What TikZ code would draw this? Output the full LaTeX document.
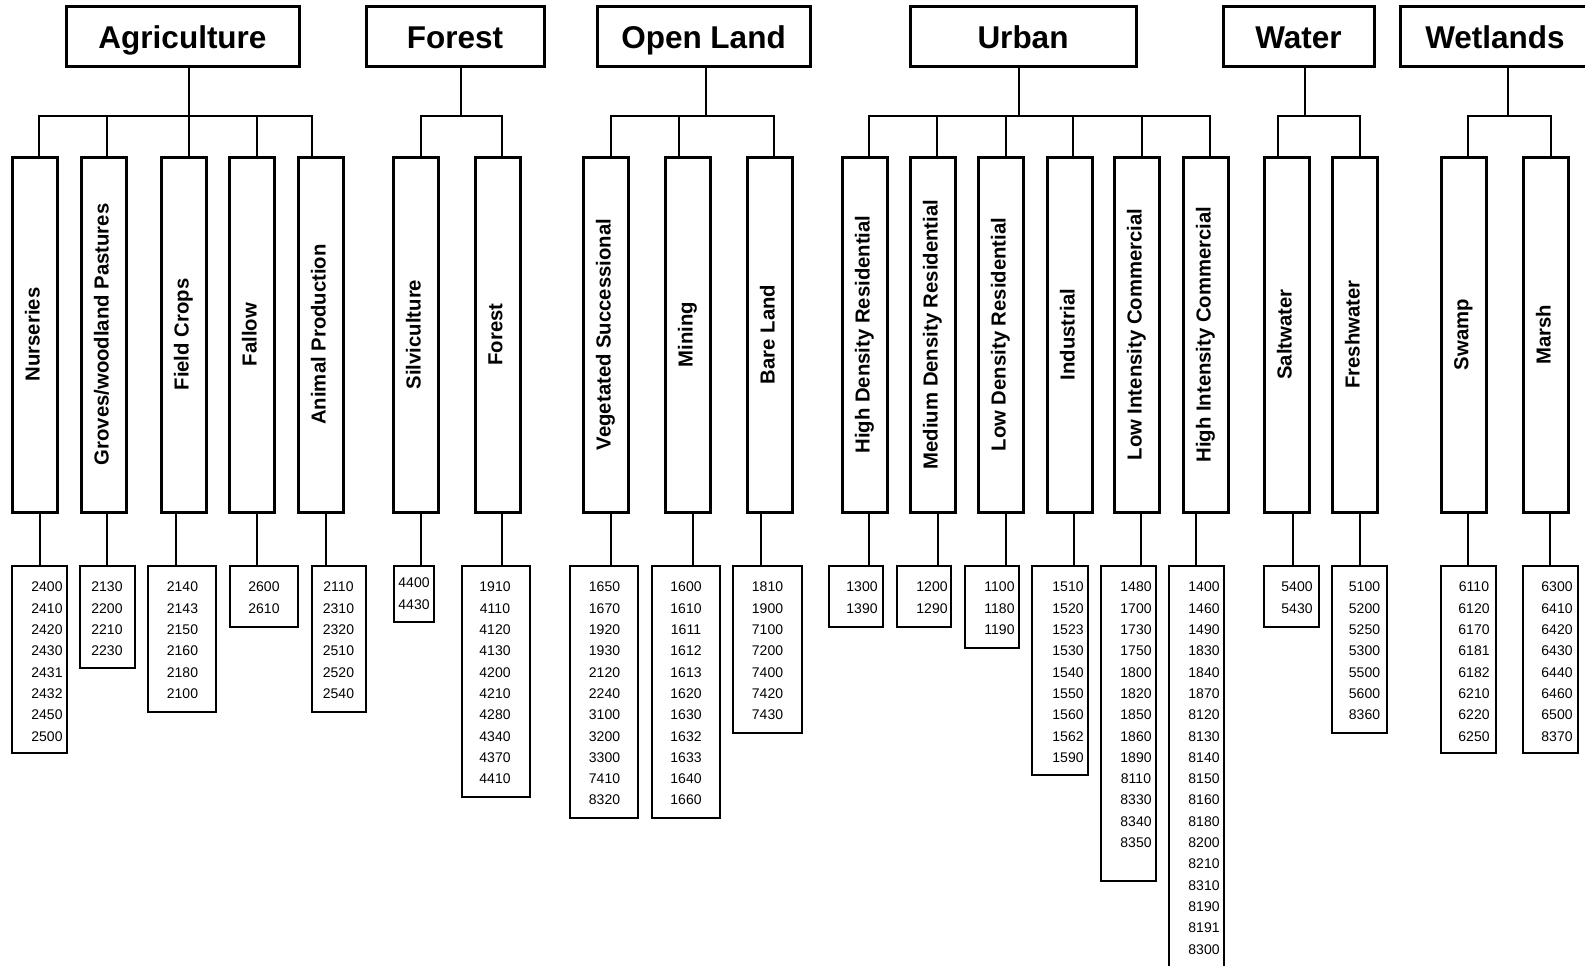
\documentclass[tikz,border=0pt]{standalone}
\usepackage{fontspec}
\setmainfont{Liberation Sans}
\usepackage{graphicx}
\tikzset{
  topbox/.style={draw, line width=3pt, minimum height=60pt, inner sep=0pt, outer sep=0pt,
    text height=22.6pt, text depth=0pt,
    font=\fontsize{31.5}{36}\selectfont\bfseries},
  subbox/.style={draw, line width=3pt, minimum width=45pt, minimum height=355pt, inner sep=0pt, outer sep=0pt,
    font=\fontsize{20.3}{24}\selectfont\bfseries},
  codebox/.style={draw, line width=1.6pt, inner sep=0pt, outer sep=0pt},
  codes/.style={inner sep=0pt, align=center, font=\fontsize{14}{21.3}\selectfont},
  upconn/.style={line width=2.6pt},
  lowconn/.style={line width=1.6pt}
}
% name, left, right, label, junction x
\newcommand\TopBox[5]{%
  \node[topbox, minimum width={(#3-#2)*1pt}] (#1) at ({(#2+#3)/2},37) {#4};
  \coordinate (#1J) at (#5,116);
  \draw[upconn] (#1.south -| #1J) -- (#1J);
}
% name, parent, left, top stub x, label
\newcommand\SubBox[5]{%
  \node[subbox] (#1) at ({#3+22.5},334.5) {\rotatebox{90}{\vphantom{Ag}#5}};
  \coordinate (#1A) at (#4,157);
  \draw[upconn] (#2J) -| (#1.north -| #1A);
}
% name, sub, left, right, bottom, stub x, text x, text top, rows
\newcommand\CodeBox[9]{%
  \node[codebox, minimum width={(#4-#3)*1pt}, minimum height={(#5-566)*1pt}, anchor=north west] (#1) at (#3,566) {};
  \coordinate (#1S) at (#6,566);
  \draw[lowconn] (#2.south -| #1S) -- (#1.north -| #1S);
  \node[codes, anchor=north] (#1T) at (#7,#8) {#9};
}
\begin{document}
\begin{tikzpicture}[x=1pt, y=-1pt]
\useasboundingbox (0,0) rectangle (1585,966);

\TopBox{tagri}{66}{299}{Agriculture}{189}
\TopBox{tfor}{366}{544}{Forest}{461}
\TopBox{topen}{597}{810}{Open Land}{706}
\TopBox{turb}{910}{1136}{Urban}{1019}
\TopBox{twat}{1223}{1374}{Water}{1305}
\TopBox{twet}{1400}{1590}{Wetlands}{1508}

\SubBox{nurs}{tagri}{12}{39}{Nurseries}
\SubBox{grov}{tagri}{81}{107}{Groves/woodland Pastures}
\SubBox{fiel}{tagri}{161}{189}{Field Crops}
\SubBox{fall}{tagri}{229}{257}{Fallow}
\SubBox{anim}{tagri}{298}{312}{Animal Production}
\SubBox{silv}{tfor}{393}{421}{Silviculture}
\SubBox{fore}{tfor}{475}{502}{Forest}
\SubBox{vege}{topen}{583}{611}{Vegetated Successional}
\SubBox{mini}{topen}{665}{679}{Mining}
\SubBox{bare}{topen}{747}{774}{Bare Land}
\SubBox{hdr}{turb}{842}{869}{High Density Residential}
\SubBox{mdr}{turb}{910}{937}{Medium Density Residential}
\SubBox{ldr}{turb}{978}{1006}{Low Density Residential}
\SubBox{indu}{turb}{1047}{1073}{Industrial}
\SubBox{lic}{turb}{1114}{1142}{Low Intensity Commercial}
\SubBox{hic}{turb}{1183}{1210}{High Intensity Commercial}
\SubBox{salt}{twat}{1264}{1278}{Saltwater}
\SubBox{fres}{twat}{1332}{1360}{Freshwater}
\SubBox{swam}{twet}{1441}{1468}{Swamp}
\SubBox{mars}{twet}{1523}{1551}{Marsh}

\CodeBox{cnurs}{nurs}{12}{67}{753}{40}{47}{582}{2400\\2410\\2420\\2430\\2431\\2432\\2450\\2500}
\CodeBox{cgrov}{grov}{80}{135}{668}{107}{107}{582}{2130\\2200\\2210\\2230}
\CodeBox{cfiel}{fiel}{148}{216}{712}{176}{182.5}{582}{2140\\2143\\2150\\2160\\2180\\2100}
\CodeBox{cfall}{fall}{230}{298}{627}{257}{264}{582}{2600\\2610}
\CodeBox{canim}{anim}{312}{366}{712}{326}{338.5}{582}{2110\\2310\\2320\\2510\\2520\\2540}
\CodeBox{csilv}{silv}{394}{434}{622}{421}{414}{578}{4400\\4430}
\CodeBox{cfore}{fore}{462}{530}{797}{502}{495}{582}{1910\\4110\\4120\\4130\\4200\\4210\\4280\\4340\\4370\\4410}
\CodeBox{cvege}{vege}{570}{638}{818}{611}{604.5}{582}{1650\\1670\\1920\\1930\\2120\\2240\\3100\\3200\\3300\\7410\\8320}
\CodeBox{cmini}{mini}{652}{720}{818}{693}{686}{582}{1600\\1610\\1611\\1612\\1613\\1620\\1630\\1632\\1633\\1640\\1660}
\CodeBox{cbare}{bare}{733}{802}{733}{761}{767.5}{582}{1810\\1900\\7100\\7200\\7400\\7420\\7430}
\CodeBox{chdr}{hdr}{829}{883}{627}{869}{862}{582}{1300\\1390}
\CodeBox{cmdr}{mdr}{897}{951}{627}{938}{932}{582}{1200\\1290}
\CodeBox{cldr}{ldr}{965}{1019}{648}{1006}{999.5}{582}{1100\\1180\\1190}
\CodeBox{cindu}{indu}{1032}{1088}{775}{1074}{1068}{582}{1510\\1520\\1523\\1530\\1540\\1550\\1560\\1562\\1590}
\CodeBox{clic}{lic}{1101}{1156}{881}{1141}{1136}{582}{1480\\1700\\1730\\1750\\1800\\1820\\1850\\1860\\1890\\8110\\8330\\8340\\8350}
\CodeBox{chic}{hic}{1169}{1224}{975}{1196}{1204}{582}{1400\\1460\\1490\\1830\\1840\\1870\\8120\\8130\\8140\\8150\\8160\\8180\\8200\\8210\\8310\\8190\\8191\\8300}
\CodeBox{csalt}{salt}{1264}{1319}{627}{1293}{1297}{582}{5400\\5430}
\CodeBox{cfres}{fres}{1332}{1387}{733}{1360}{1364.5}{582}{5100\\5200\\5250\\5300\\5500\\5600\\8360}
\CodeBox{cswam}{swam}{1441}{1496}{753}{1468}{1474}{582}{6110\\6120\\6170\\6181\\6182\\6210\\6220\\6250}
\CodeBox{cmars}{mars}{1523}{1578}{753}{1550}{1557}{582}{6300\\6410\\6420\\6430\\6440\\6460\\6500\\8370}
\end{tikzpicture}
\end{document}
